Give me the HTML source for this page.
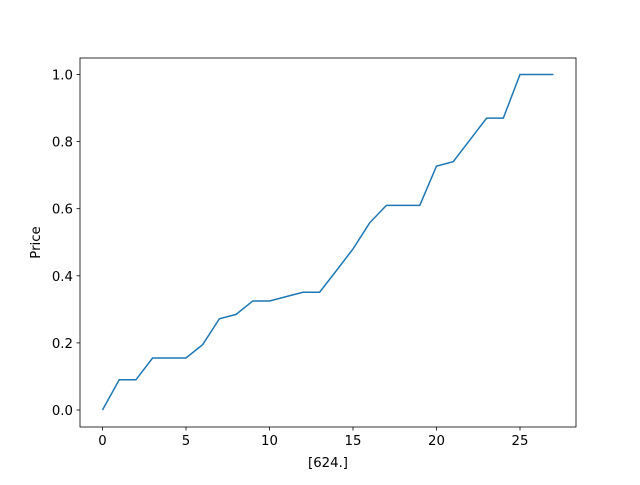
<!DOCTYPE html>
<html><head><meta charset="utf-8"><style>
body{margin:0;background:#fff;}
svg text{font-family:"DejaVu Sans","Liberation Sans",sans-serif;font-size:13.3px;fill:#000;}
</style></head><body>
<svg id="chart" width="640" height="480"></svg>
<script>
const xValues=[0,1,2,3,4,5,6,7,8,9,10,11,12,13,14,15,16,17,18,19,20,21,22,23,24,25,26,27];
const priceValues=[0,0.09,0.09,0.155,0.155,0.155,0.195,0.272,0.285,0.325,0.325,0.338,0.351,0.351,0.415,0.48,0.558,0.61,0.61,0.61,0.727,0.74,0.805,0.87,0.87,1.0,1.0,1.0];
const xTicks=[0,5,10,15,20,25];
const yTicks=[0,0.2,0.4,0.6,0.8,1.0];
const yTickLabels=["0.0","0.2","0.4","0.6","0.8","1.0"];
const NS="http://www.w3.org/2000/svg";
const svg=document.getElementById('chart');
const L=80,R=576,T=58,B=427;
const xs=v=>102.5+(v-0)*(520-102.5)/25;
const ys=v=>410-v*335.5;
function mk(t,a){const e=document.createElementNS(NS,t);for(const k in a)e.setAttribute(k,a[k]);svg.appendChild(e);return e;}
const frame=mk('rect',{x:L,y:T,width:R-L,height:B-T,fill:'none',stroke:'#000','stroke-width':0.8});


xTicks.forEach(v=>{
  const l=mk('line',{x1:xs(v),x2:xs(v),y1:B,y2:B+3.5,stroke:'#000','stroke-width':0.8});
  
  
  const t=mk('text',{x:xs(v),y:B+18,'text-anchor':'middle'});t.textContent=v;
  
  
});
yTicks.forEach((v,i)=>{
  const l=mk('line',{x1:L-3.5,x2:L,y1:ys(v),y2:ys(v),stroke:'#000','stroke-width':0.8});
  
  
  const t=mk('text',{x:L-7,y:ys(v)+5,'text-anchor':'end'});t.textContent=yTickLabels[i];
  
  
});
const line=mk('polyline',{points:xValues.map((x,i)=>xs(x)+','+ys(priceValues[i])).join(' '),fill:'none',stroke:'#1f77b4','stroke-width':1.5});


const xl=mk('text',{x:(L+R)/2,y:467,'text-anchor':'middle'});xl.textContent='[624.]';


const yl=mk('text',{x:0,y:0,'text-anchor':'middle',transform:'translate(40,'+((T+B)/2)+') rotate(-90)'});yl.textContent='Price';


</script>
</body></html>
